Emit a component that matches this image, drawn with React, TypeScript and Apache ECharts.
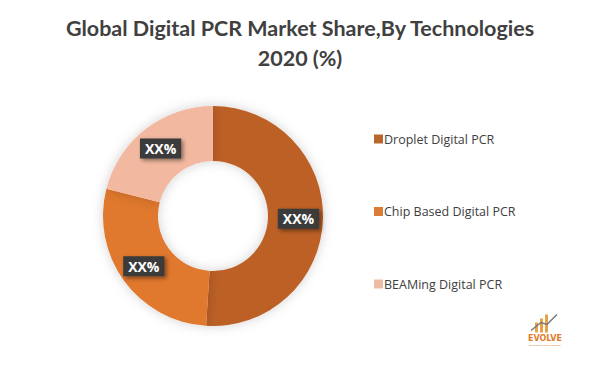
import React, { useEffect, useRef } from "react";
import * as echarts from "echarts";

const categories = ["Droplet Digital PCR", "Chip Based Digital PCR", "BEAMing Digital PCR"];
const shares = [51, 28, 21];
const labels = ["XX%", "XX%", "XX%"];
const colors = ["#BC6127", "#E0782F", "#F3B9A0"];
const legendColors = ["#B8662E", "#DB7B36", "#EDBCA6"];

export default function App() {
  const ref = useRef<HTMLDivElement>(null);
  useEffect(() => {
    const chart = echarts.init(ref.current!, null, { renderer: "svg" });
    chart.setOption({
      animation: false,
      backgroundColor: "#ffffff",
      title: {
        text: "Global Digital PCR Market Share,By Technologies\n2020 (%)",
        left: "center",
        top: 8,
        textStyle: {
          fontFamily: "Lato",
          fontWeight: "bold",
          fontSize: 21.5,
          lineHeight: 30,
          color: "#404040",
        },
      },
      legend: {
        orient: "vertical",
        left: 369,
        top: 127,
        itemWidth: 9,
        itemHeight: 9,
        itemGap: 58.5,
        icon: "rect",
        textStyle: {
          fontFamily: "Open Sans",
          fontSize: 12.5,
          lineHeight: 14,
          color: "#404040",
          padding: [0, 0, 0, -4],
        },
        data: categories.map((c, i) => ({ name: c, itemStyle: { color: legendColors[i] } })),
      },
      series: [
        {
          type: "pie",
          center: [213, 216],
          radius: [55, 110],
          startAngle: 90,
          clockwise: true,
          label: {
            show: true,
            position: "inside",
            formatter: (p: any) => labels[p.dataIndex],
            backgroundColor: "#3a3a3a",
            color: "#ffffff",
            fontFamily: "Open Sans",
            fontWeight: "bold",
            fontSize: 14,
            padding: [3, 5, 3, 5],
            shadowBlur: 4,
            shadowColor: "rgba(0,0,0,0.45)",
            shadowOffsetX: 2,
            shadowOffsetY: 2,
          },
          labelLine: { show: false },
          itemStyle: {
            shadowBlur: 12,
            shadowColor: "rgba(0,0,0,0.18)",
          },
          emphasis: { disabled: true },
          data: categories.map((c, i) => ({
            name: c,
            value: shares[i],
            itemStyle: { color: colors[i] },
          })),
        },
      ],
      graphic: [
        {
          type: "group",
          left: 528,
          top: 312,
          children: [
            { type: "rect", shape: { x: 14, y: 14, width: 3, height: 10 }, style: { fill: "#E8A24A" } },
            { type: "rect", shape: { x: 19, y: 10, width: 3, height: 14 }, style: { fill: "#E8A24A" } },
            { type: "rect", shape: { x: 24, y: 6, width: 3, height: 18 }, style: { fill: "#E8A24A" } },
            { type: "polyline", shape: { points: [[10, 22], [20, 14], [26, 16], [36, 6]] }, style: { stroke: "#777", lineWidth: 1.5, fill: "none" } },
            { type: "text", style: { x: 24, y: 26, text: "EVOLVE", align: "center", fontSize: 8, fontWeight: "bold", fill: "#E07B2A", fontFamily: "DejaVu Sans" } },
            { type: "text", style: { x: 24, y: 35, text: "BUSINESS INTELLIGENCE", align: "center", fontSize: 2.5, fill: "#E07B2A" } },
          ],
        },
      ],
    });
    return () => chart.dispose();
  }, []);
  return <div ref={ref} style={{ position: "absolute", left: 0, top: 0, width: 600, height: 367 }} />;
}
